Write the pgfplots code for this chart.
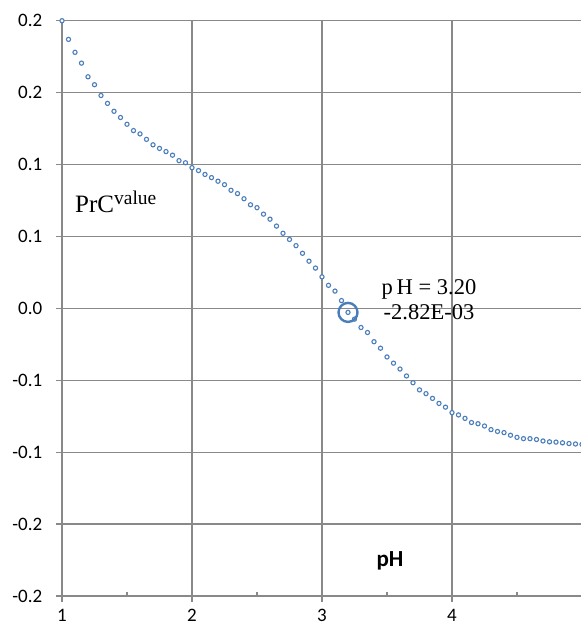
\documentclass[border=0pt]{standalone}
\usepackage{fontspec}
\setmainfont{Liberation Serif}
\newfontfamily\carlito{Carlito}
\usepackage{pgfplots}
\pgfplotsset{compat=1.18}
\definecolor{xlblue}{HTML}{4A7EBB}
\definecolor{gridgray}{HTML}{898989}
\begin{document}
\begin{tikzpicture}
\begin{axis}[
    at={(62pt,36pt)}, anchor=south west,
    scale only axis, width=520pt, height=575.3pt,
    xmin=1, xmax=5, ymin=-0.2, ymax=0.2,
    axis lines=left, axis line style={-, gridgray, line width=1.3pt},
    clip=false,
    xtick={1,2,3,4}, minor xtick={1.5,2.5,3.5,4.5},
    xticklabels={1,2,3,4},
    ytick={-0.2,-0.15,-0.1,-0.05,0,0.05,0.1,0.15,0.2},
    yticklabels={-0.2,-0.2,-0.1,-0.1,0.0,0.1,0.1,0.2,0.2},
    grid=major, major grid style={gridgray, line width=1.2pt},
    tick align=outside, major tick length=6pt, minor tick length=4pt,
    tick style={gridgray, line width=1.2pt},
    minor x tick style={yshift=4pt},
    tick label style={font=\carlito\fontsize{19}{21}\selectfont, inner sep=0pt},
    yticklabel style={anchor=east, xshift=-13.5pt},
    xticklabel style={anchor=north, yshift=-7pt},
]
\addplot[only marks, mark=*, mark size=2.1pt,
    mark options={draw=xlblue, fill=white, line width=1.1pt}] coordinates {
(1.00,0.2000)(1.05,0.1870)(1.10,0.1780)(1.15,0.1705)(1.20,0.1610)
(1.25,0.1555)(1.30,0.1480)(1.35,0.1425)(1.40,0.1370)(1.45,0.1327)
(1.50,0.1280)(1.55,0.1236)(1.60,0.1213)(1.65,0.1175)(1.70,0.1137)
(1.75,0.1112)(1.80,0.1090)(1.85,0.1065)(1.90,0.1027)(1.95,0.1012)
(2.00,0.0978)(2.05,0.0958)(2.10,0.0931)(2.15,0.0909)(2.20,0.0884)
(2.25,0.0860)(2.30,0.0821)(2.35,0.0798)(2.40,0.0762)(2.45,0.0720)
(2.50,0.0700)(2.55,0.0655)(2.60,0.0620)(2.65,0.0572)(2.70,0.0522)
(2.75,0.0479)(2.80,0.0436)(2.85,0.0383)(2.90,0.0328)(2.95,0.0280)
(3.00,0.0219)(3.05,0.0160)(3.10,0.0120)(3.15,0.0054)(3.20,-0.0028)
(3.25,-0.0075)(3.30,-0.0133)(3.35,-0.0168)(3.40,-0.0232)(3.45,-0.0277)
(3.50,-0.0338)(3.55,-0.0381)(3.60,-0.0422)(3.65,-0.0470)(3.70,-0.0517)
(3.75,-0.0567)(3.80,-0.0593)(3.85,-0.0626)(3.90,-0.0661)(3.95,-0.0687)
(4.00,-0.0725)(4.05,-0.0741)(4.10,-0.0765)(4.15,-0.0794)(4.20,-0.0802)
(4.25,-0.0818)(4.30,-0.0843)(4.35,-0.0856)(4.40,-0.0864)(4.45,-0.0882)
(4.50,-0.0897)(4.55,-0.0906)(4.60,-0.0906)(4.65,-0.0912)(4.70,-0.0922)
(4.75,-0.0928)(4.80,-0.0930)(4.85,-0.0935)(4.90,-0.0940)(4.95,-0.0943)
(5.00,-0.0946)
};
% highlighted point
\addplot[only marks, mark=o, mark size=9.5pt,
    mark options={draw=xlblue, line width=2.4pt}] coordinates {(3.20,-0.00282)};
\node[anchor=base, font=\fontsize{22.5}{24}\selectfont]
    at (axis cs:3.823,0.0093) {p\,H = 3.20};
\node[anchor=base, font=\fontsize{22.5}{24}\selectfont]
    at (axis cs:3.823,-0.0076) {-2.82E-03};
\node[anchor=base west, inner sep=0pt, font=\fontsize{25}{28}\selectfont]
    at (axis cs:1.1,0.0666) {PrC\raisebox{8.5pt}{\fontsize{19.5}{20}\selectfont value}};
\node[anchor=base, inner sep=0pt, font=\carlito\bfseries\fontsize{23}{25}\selectfont]
    at (axis cs:3.523,-0.1795) {pH};
\end{axis}
\pgfresetboundingbox
\path[use as bounding box] (0,0) rectangle (581pt,632pt);
\end{tikzpicture}
\end{document}
